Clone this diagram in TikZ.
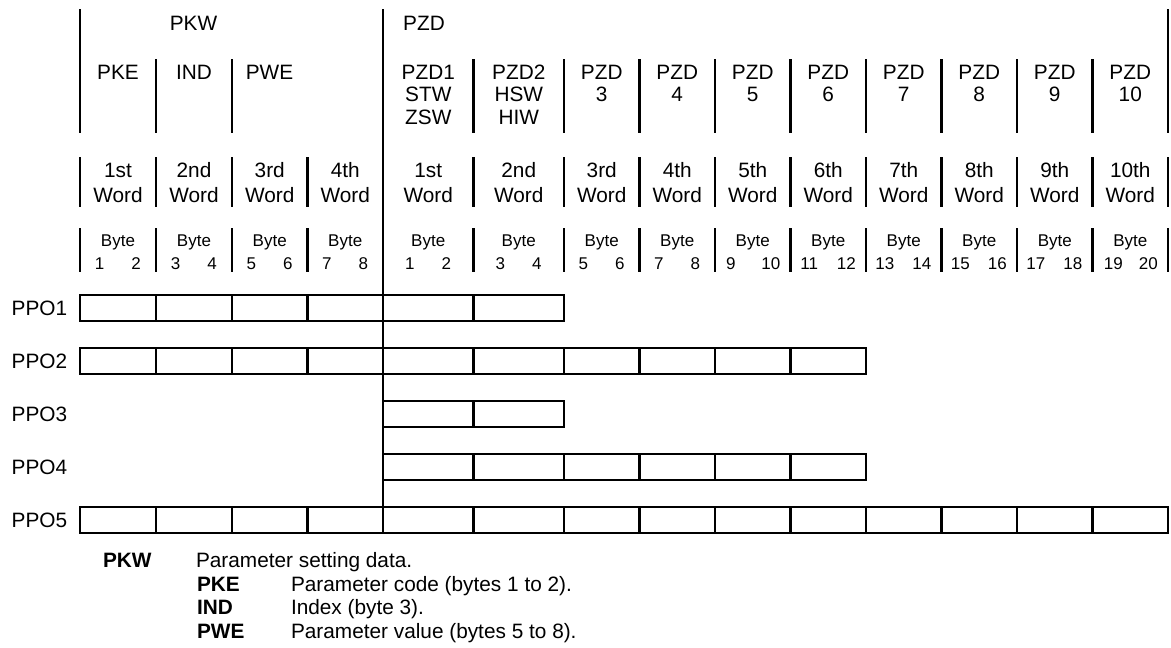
\documentclass[tikz,border=0pt]{standalone}
\usepackage{fontspec}
\setmainfont{Liberation Sans}
\begin{document}
\begin{tikzpicture}[x=1pt,y=-1pt,
  every node/.style={inner sep=0pt,outer sep=0pt},
  txt/.style={anchor=base,font=\fontsize{20.8}{23}\selectfont},
  btxt/.style={anchor=base,font=\fontsize{17}{19}\selectfont},
  lg/.style={anchor=base west,font=\fontsize{20.8}{23}\selectfont},
  lgb/.style={anchor=base west,font=\fontsize{20.8}{23}\selectfont\bfseries},
  rule/.style={line width=2.2pt},
  cellbox/.style={draw,line width=2.2pt}
]
\fill[white] (0,0) rectangle (1171,648);
\useasboundingbox (0,0) rectangle (1171,648);
\def\colarr{{80,156,232,307.5,383,473.5,564,639.5,715,790.5,866,941.5,1017,1092.5,1168}}

% ---- header row lines
\draw[rule] (80,9.3) -- (80,132.7);
\draw[rule] (1168,9.3) -- (1168,132.7);
\draw[rule] (383,9.3) -- (383,533.3);
\foreach \x in {156,232,473.5,564,639.5,715,790.5,866,941.5,1017,1092.5}
  \draw[rule] (\x,59.3) -- (\x,132.7);
% ---- word and byte row lines
\foreach \x in {80,156,232,307.5,473.5,564,639.5,715,790.5,866,941.5,1017,1092.5,1168}{
  \draw[rule] (\x,157.3) -- (\x,206.7);
  \draw[rule] (\x,228.3) -- (\x,271.7);
}

% ---- header texts
\node[txt] (pkw) at (193.5,30.1) {PKW};
\node[txt] (pzd) at (424,30.1) {PZD};
\node[txt] (pke) at (118,79.2) {PKE};
\node[txt] (ind) at (194,79.2) {IND};
\node[txt] (pwe) at (269.5,79.2) {PWE};
\node[txt] (pzd1a) at (428.3,79.2) {PZD1};
\node[txt] (pzd1b) at (428.3,101.5) {STW};
\node[txt] (pzd1c) at (428.3,124.1) {ZSW};
\node[txt] (pzd2a) at (518.8,79.2) {PZD2};
\node[txt] (pzd2b) at (518.8,101.5) {HSW};
\node[txt] (pzd2c) at (518.8,124.1) {HIW};
\foreach \l/\r/\n in {564/639.5/3,639.5/715/4,715/790.5/5,790.5/866/6,866/941.5/7,941.5/1017/8,1017/1092.5/9,1092.5/1168/10}{
  \node[txt] (pzdn\n) at ({(\l+\r)/2},79.2) {PZD};
  \node[txt] (pzdk\n) at ({(\l+\r)/2},101.5) {\n};
}

% ---- word row
\foreach \l/\r/\w [count=\i] in {80/156/1st,156/232/2nd,232/307.5/3rd,307.5/383/4th,383/473.5/1st,473.5/564/2nd,564/639.5/3rd,639.5/715/4th,715/790.5/5th,790.5/866/6th,866/941.5/7th,941.5/1017/8th,1017/1092.5/9th,1092.5/1168/10th}{
  \node[txt] (wa\i) at ({(\l+\r)/2},177.5) {\w};
  \node[txt] (wb\i) at ({(\l+\r)/2},202.5) {Word};
}

% ---- byte row
\foreach \l/\r/\a/\b/\da [count=\i] in {80/156/1/2/18.5,156/232/3/4/18.5,232/307.5/5/6/18.5,307.5/383/7/8/18.5,383/473.5/1/2/18.5,473.5/564/3/4/18.5,564/639.5/5/6/18.5,639.5/715/7/8/18.5,715/790.5/9/10/22,790.5/866/11/12/19,866/941.5/13/14/19,941.5/1017/15/16/19,1017/1092.5/17/18/19,1092.5/1168/19/20/17}{
  \node[btxt] (ba\i) at ({(\l+\r)/2},246.5) {Byte};
  \node[btxt] (bb\i) at ({(\l+\r)/2-\da},269.1) {\a};
  \node[btxt] (bc\i) at ({(\l+\r)/2+18},269.1) {\b};
}

% ---- PPO rows
\foreach \k/\a/\b in {1/0/6,2/0/10,3/4/6,4/4/10,5/0/14}{
  \pgfmathsetmacro\top{295+53.08*(\k-1)}
  \pgfmathsetmacro\bot{\top+26}
  \pgfmathtruncatemacro\last{\b-1}
  \foreach \j in {\a,...,\last}{
    \pgfmathsetmacro\xl{\colarr[\j]}
    \pgfmathsetmacro\xr{\colarr[\j+1]}
    \draw[cellbox] (\xl,\top) rectangle (\xr,\bot);
  }
  \node[txt,anchor=base west] (ppo\k) at (11.7,\top+13+7.45) {PPO\k};
}

% ---- legend
\node[lgb] (lpkw) at (103,567.5) {PKW};
\node[lg] (lpkwd) at (196,567.5) {Parameter setting data.};
\node[lgb] (lpke) at (197,591) {PKE};
\node[lg] (lpked) at (291,591) {Parameter code (bytes 1 to 2).};
\node[lgb] (lind) at (197,614.5) {IND};
\node[lg] (lindd) at (291,614.5) {Index (byte 3).};
\node[lgb] (lpwe) at (197,638) {PWE};
\node[lg] (lpwed) at (291,638) {Parameter value (bytes 5 to 8).};
\end{tikzpicture}
\end{document}
